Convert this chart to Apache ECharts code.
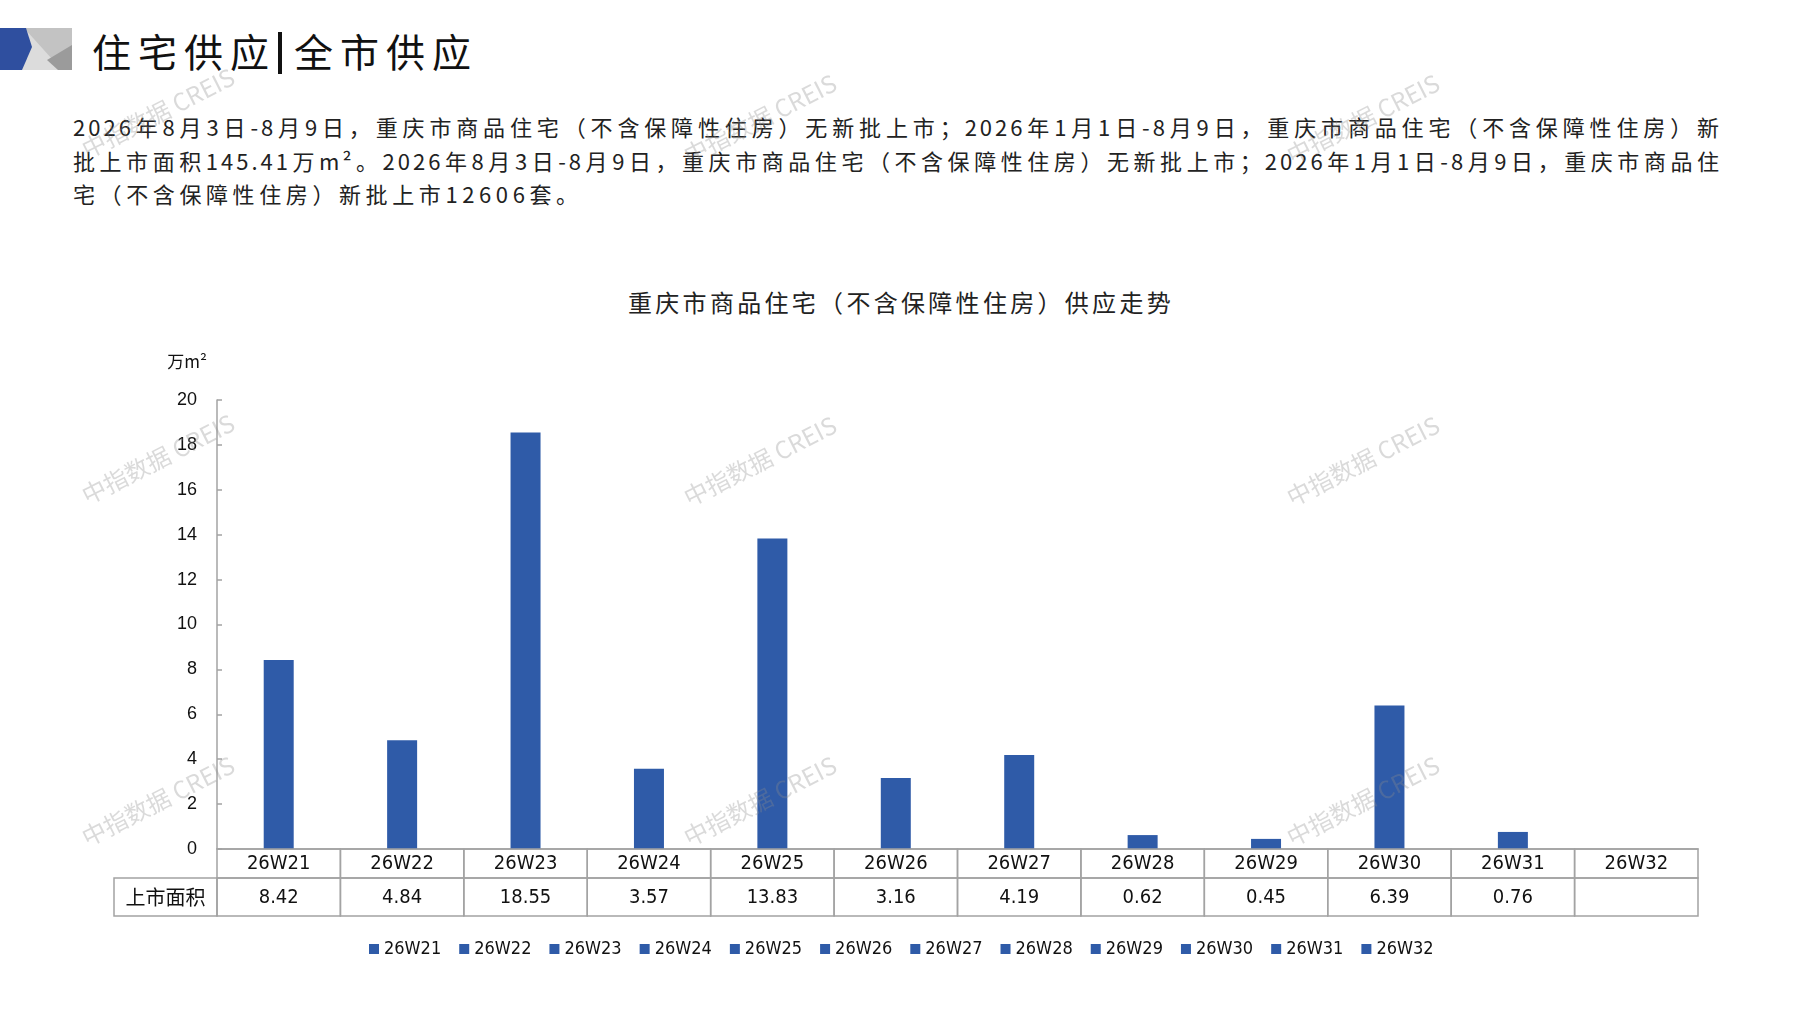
<!DOCTYPE html>
<html>
<head>
<meta charset="utf-8">
<script src="https://cdn.jsdelivr.net/npm/echarts@6/dist/echarts.min.js"></script>
<style>
html,body{margin:0;padding:0;width:1797px;height:1010px;background:#fff;overflow:hidden;}
#title{position:absolute;left:92px;top:28px;font-family:'Noto Sans CJK SC',sans-serif;font-size:39px;line-height:44px;letter-spacing:7px;color:#111;white-space:nowrap;}
#title .bar{display:inline-block;width:4px;height:42px;background:#111;vertical-align:middle;margin:-6px 12px 0 2px;}
#para{position:absolute;left:73px;top:110px;width:1649px;font-family:'Noto Sans CJK SC',sans-serif;font-size:22px;line-height:33.5px;letter-spacing:3px;color:#222;}
#para .jl{text-align:justify;text-align-last:justify;}
#para .last{letter-spacing:4.6px;white-space:nowrap;}
#ctitle{position:absolute;left:628px;top:286px;font-family:'Noto Sans CJK SC',sans-serif;font-size:24px;line-height:32px;letter-spacing:3.3px;color:#222;white-space:nowrap;}
#chart{position:absolute;left:0;top:0;width:1797px;height:1010px;z-index:2;}
</style>
</head>
<body>
<div id="title">住宅供应<span class="bar"></span>全市供应</div>
<div id="para">
<div class="jl">2026年8月3日-8月9日，重庆市商品住宅（不含保障性住房）无新批上市；2026年1月1日-8月9日，重庆市商品住宅（不含保障性住房）新</div>
<div class="jl">批上市面积145.41万m²。2026年8月3日-8月9日，重庆市商品住宅（不含保障性住房）无新批上市；2026年1月1日-8月9日，重庆市商品住</div>
<div class="last">宅（不含保障性住房）新批上市12606套。</div>
</div>
<div id="ctitle">重庆市商品住宅（不含保障性住房）供应走势</div>
<div id="chart"></div>
<script>
// ---- data ----
const categories = ['26W21','26W22','26W23','26W24','26W25','26W26','26W27','26W28','26W29','26W30','26W31','26W32'];
const supplyArea = [8.42, 4.84, 18.55, 3.57, 13.83, 3.16, 4.19, 0.62, 0.45, 6.39, 0.76, null];
const rowHeader = '上市面积';
const unitLabel = '万m²';
const watermarkText = '中指数据 CREIS';
const yMin = 0, yMax = 20, yStep = 2;

// ---- style constants ----
const BLUE = '#2f5ba8';
const GRIDC = '#a3a3a3';
const NARROW = "'Liberation Sans Narrow','DejaVu Sans Condensed','Noto Sans CJK SC',sans-serif";
const CJK = "'Noto Sans CJK SC',sans-serif";
const R1 = 29, R2 = 38, HEADW = 103;
const wmPos = [[158,113],[760,119],[1363,119],[158,459],[760,461],[1363,461],[158,801],[760,801],[1363,801]];

const chart = echarts.init(document.getElementById('chart'), null, {renderer:'canvas'});

const barSeries = categories.map((c, i) => ({
  name: c,
  type: 'bar',
  stack: 'all',
  barWidth: 30,
  itemStyle: {color: BLUE},
  emphasis: {disabled: true},
  data: supplyArea.map((v, j) => (j === i && v != null) ? v : '-')
}));

const tableSeries = {
  type: 'custom',
  name: 'table',
  clip: false,
  silent: true,
  z: 5,
  data: categories.map((c, i) => [i, 0]),
  encode: {x: 0, y: 1},
  renderItem: function (params, api) {
    const i = params.dataIndex;
    const p = api.coord([i, 0]);
    const w = api.size([1, 0])[0];
    const x0 = p[0] - w / 2, y0 = p[1];
    const v = supplyArea[i];
    const children = [
      {type:'rect', shape:{x:x0, y:y0, width:w, height:R1}, style:{fill:'none', stroke:GRIDC, lineWidth:1.5}},
      {type:'rect', shape:{x:x0, y:y0 + R1, width:w, height:R2}, style:{fill:'none', stroke:GRIDC, lineWidth:1.5}},
      {type:'text', style:{text: v == null ? '' : v.toFixed(2), x:p[0], y:y0 + R1 + R2 / 2 + 1, align:'center', verticalAlign:'middle', fontSize:20, fontFamily:NARROW, fill:'#111'}}
    ];
    if (i === 0) {
      children.push({type:'rect', shape:{x:x0 - HEADW, y:y0 + R1, width:HEADW, height:R2}, style:{fill:'none', stroke:GRIDC, lineWidth:1.5}});
      children.push({type:'text', style:{text: rowHeader, x:x0 - HEADW / 2, y:y0 + R1 + R2 / 2, align:'center', verticalAlign:'middle', fontSize:20, fontFamily:CJK, fill:'#111'}});
    }
    return {type:'group', children: children};
  }
};

const graphics = [
  {type:'rect', shape:{x:0, y:28, width:72, height:42}, style:{fill:'#dcdcdc'}},
  {type:'polygon', shape:{points:[[24,28],[72,28],[72,70],[62,70]]}, style:{fill:'#c3c3c3'}},
  {type:'polygon', shape:{points:[[72,45],[72,70],[58,70],[47,60]]}, style:{fill:'#9b9b9b'}},
  {type:'polygon', shape:{points:[[0,28],[26,28],[32,47],[22,70],[0,70]]}, style:{fill:'#2f4f9f'}}
].concat(wmPos.map(pt => ({
  type:'text', x:pt[0], y:pt[1], rotation:0.47, z:100, silent:true,
  style:{text: watermarkText, align:'center', verticalAlign:'middle', fontSize:24, fontFamily:CJK, fill:'rgba(140,140,140,0.32)'}
})));

chart.setOption({
  animation: false,
  graphic: graphics,
  grid: {left: 217, top: 400, width: 1481, height: 449, containLabel: false},
  legend: {
    data: categories,
    left: 364, top: 935,
    icon: 'rect', itemWidth: 10, itemHeight: 10, itemGap: 18,
    selectedMode: false,
    textStyle: {fontSize: 18, fontFamily: NARROW, color: '#111'}
  },
  xAxis: {
    type: 'category',
    data: categories,
    boundaryGap: true,
    axisLine: {show: true, lineStyle: {color: GRIDC, width: 1.5}},
    axisTick: {show: false},
    axisLabel: {fontSize: 20, fontFamily: NARROW, color: '#111', margin: 15, verticalAlign: 'middle', interval: 0}
  },
  yAxis: {
    type: 'value',
    min: yMin, max: yMax, interval: yStep,
    name: unitLabel,
    nameLocation: 'end',
    nameGap: 38,
    nameTextStyle: {fontSize: 17, fontFamily: CJK, color: '#111', align: 'right', verticalAlign: 'middle', padding: [0, 10, 0, 0]},
    axisLine: {show: true, lineStyle: {color: GRIDC, width: 1.5}},
    axisTick: {show: true, inside: true, length: 5, lineStyle: {color: GRIDC, width: 1.5}},
    splitLine: {show: false},
    axisLabel: {fontSize: 18, fontFamily: "'Liberation Sans',Arial,sans-serif", color: '#111', margin: 20}
  },
  series: barSeries.concat([tableSeries])
});
</script>
</body>
</html>
